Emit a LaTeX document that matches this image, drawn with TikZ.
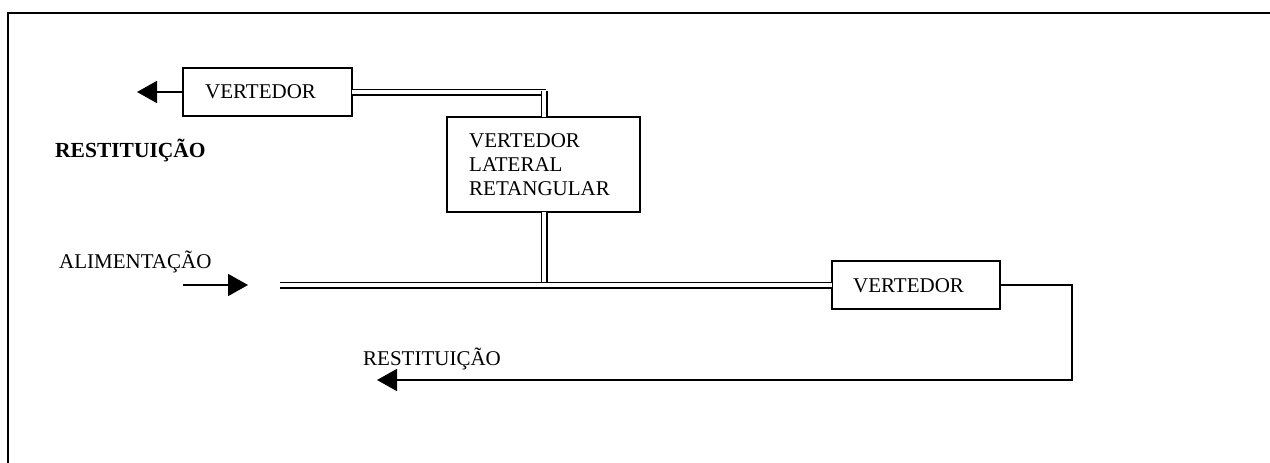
\documentclass[tikz,border=0pt]{standalone}
\usepackage{fontspec}
\setmainfont{Liberation Serif}
\usetikzlibrary{arrows.meta}
\begin{document}
\begin{tikzpicture}[x=1pt,y=-1pt,
  lbl/.style={font=\fontsize{21}{24}\selectfont, anchor=base west, inner sep=0pt},
  boxst/.style={draw, line width=1.8pt, anchor=north west, inner sep=0pt, outer sep=0pt},
  dbl/.style={double, line width=1.7pt, double distance=3.6pt},
  arr/.style={line width=1.8pt, -{Triangle[length=20pt,width=22pt]}}]
\useasboundingbox (0,0) rectangle (1270,463);
% frame
\coordinate (f1) at (8,463);
\coordinate (f2) at (8,13);
\coordinate (f3) at (1270,13);
\draw[line width=2.2pt] (f1) -- (f2) -- (f3);
% boxes
\node[boxst, minimum width=169pt, minimum height=48pt] (v1) at (183,68) {};
\node[boxst, minimum width=193pt, minimum height=95pt] (vl) at (447,117) {};
\node[boxst, minimum width=168pt, minimum height=48pt] (v2) at (832,261) {};
% texts
\node[lbl] (t1) at (205,98) {VERTEDOR};
\node[lbl] (t2) at (469,147) {VERTEDOR};
\node[lbl] (t3) at (469,171) {LATERAL};
\node[lbl] (t4) at (469,195) {RETANGULAR};
\node[lbl] (t5) at (853,292) {VERTEDOR};
\node[lbl, font=\fontsize{21.5}{24}\selectfont\bfseries] (t6) at (55,157) {RESTITUIÇÃO};
\node[lbl] (t7) at (59,268) {ALIMENTAÇÃO};
\node[lbl] (t8) at (363,365) {RESTITUIÇÃO};
% coordinates
\coordinate (r1) at (137,92);
\coordinate (c1) at (546,92);
\coordinate (c2) at (544,91);
\coordinate (c4) at (280,285);
\coordinate (c6) at (1072,380);
\coordinate (c7) at (377,380);
\coordinate (a1) at (183,285);
\coordinate (a2) at (248,285);
% connectors
\draw[arr] (v1.west) -- (r1);
\draw[dbl] (v1.east) -- (v1.east -| c1);
\draw[dbl] (c2) -- (c2 |- vl.north);
\draw[dbl] (c2 |- vl.south) -- (c2 |- v2.west);
\draw[dbl] (v2.west -| c4) -- (v2.west);
\draw[arr] (v2.east) -| (c6) -- (c7);
\draw[arr] (a1) -- (a2);
\end{tikzpicture}
\end{document}
